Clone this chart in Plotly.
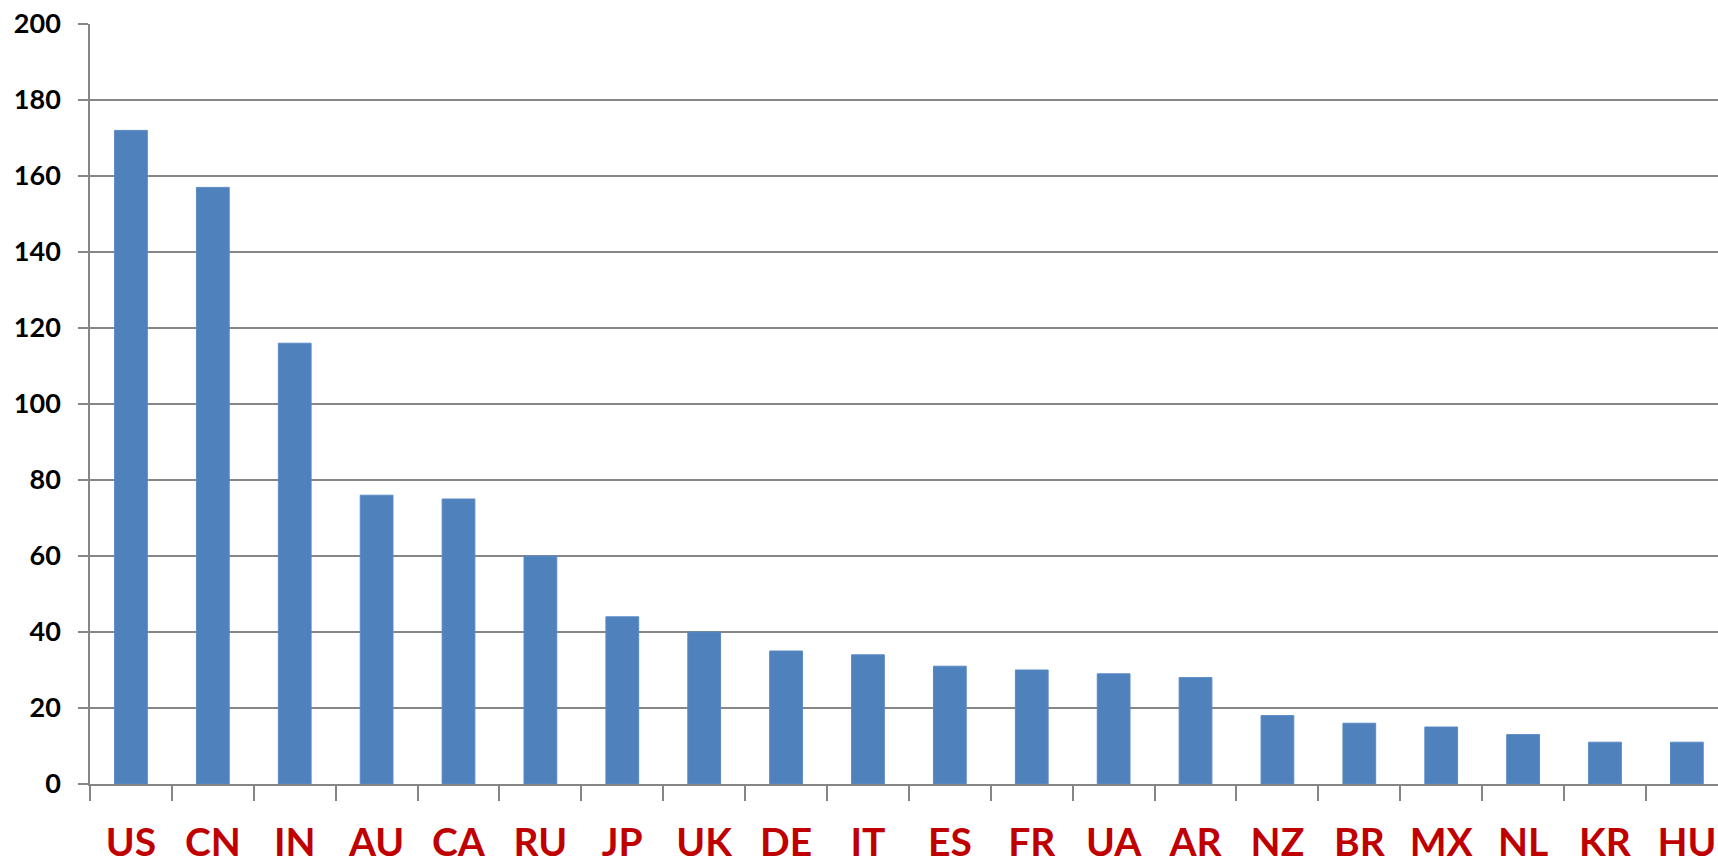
import plotly.graph_objects as go

countries = ["US", "CN", "IN", "AU", "CA", "RU", "JP", "UK", "DE", "IT",
             "ES", "FR", "UA", "AR", "NZ", "BR", "MX", "NL", "KR", "HU"]
values = [172, 157, 116, 76, 75, 60, 44, 40, 35, 34,
          31, 30, 29, 28, 18, 16, 15, 13, 11, 11]
y_ticks = [0, 20, 40, 60, 80, 100, 120, 140, 160, 180, 200]

fig = go.Figure(go.Bar(
    x=countries, y=values,
    marker=dict(color="#4F81BD", line=dict(color="#5A8AC6", width=1)),
    width=0.4,
))

fig.update_layout(
    width=1718, height=864,
    margin=dict(l=90, r=0, t=24, b=80, autoexpand=False),
    plot_bgcolor="white", paper_bgcolor="white",
    showlegend=False,
    bargap=0.6,
)
fig.update_xaxes(
    type="category",
    range=[-0.5, 19.38],
    automargin=False,
    showgrid=False,
    showline=True, linecolor="#868686", linewidth=1.5,
    ticks="outside", tickson="boundaries", ticklen=15, tickcolor="#868686", tickwidth=1.5,
    tickfont=dict(family="Lato", size=39, color="#C00000", weight="bold"),
    ticklabelstandoff=23,
)
fig.update_yaxes(
    range=[0, 200], tickvals=y_ticks,
    automargin=False,
    showgrid=True, gridcolor="#868686", gridwidth=1.5,
    showline=True, linecolor="#868686", linewidth=1.5,
    zeroline=False,
    ticks="outside", ticklen=10, tickcolor="#868686", tickwidth=1.5,
    tickfont=dict(family="Lato", size=27, color="black", weight="bold"),
    ticklabelstandoff=12,
)

fig.write_html(
    "out.html",
    config={"displayModeBar": False},
    post_script="document.body.style.margin='0';document.body.style.overflow='hidden';",
)
